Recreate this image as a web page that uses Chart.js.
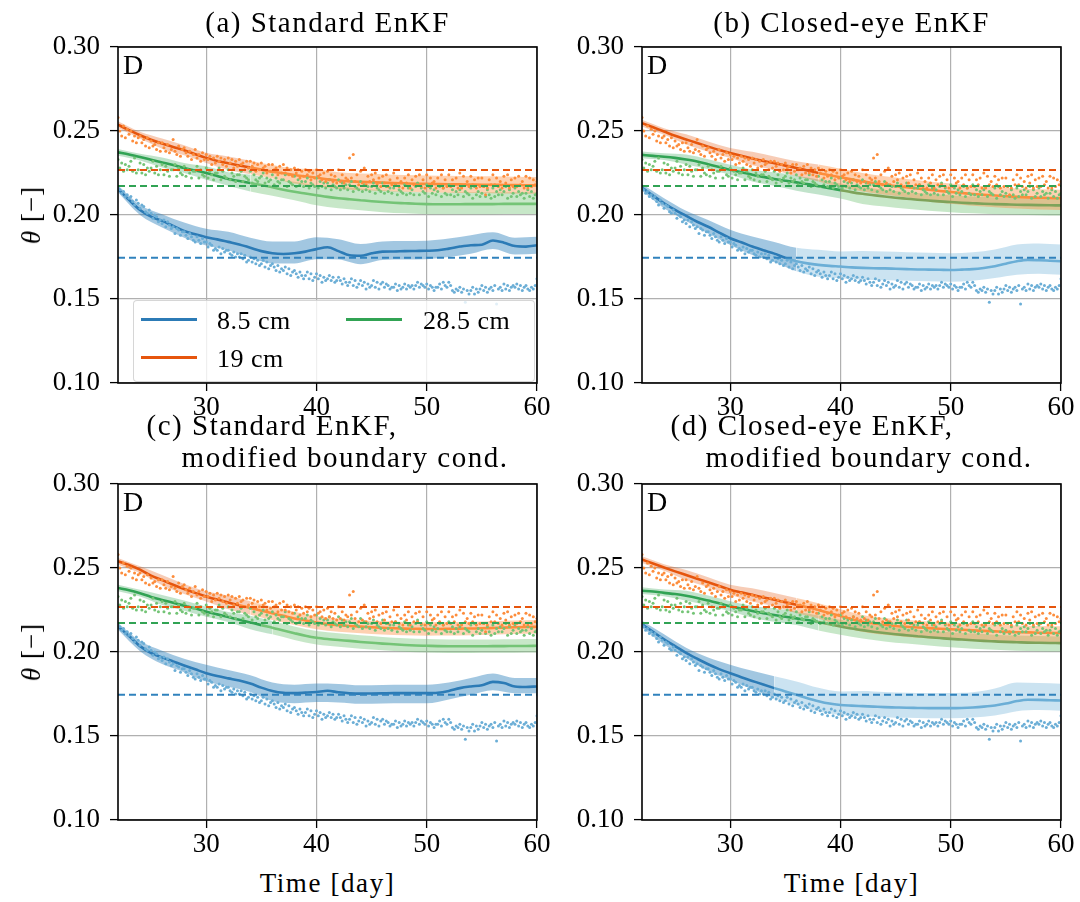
<!DOCTYPE html>
<html><head><meta charset="utf-8">
<script src="https://cdn.jsdelivr.net/npm/chart.js@4.4.0/dist/chart.umd.min.js"></script>
<style>
html,body{margin:0;padding:0;background:#fff;width:1080px;height:902px;overflow:hidden;}
#wrap{position:relative;width:1080px;height:902px;font-family:'Liberation Serif',serif;color:#000;}
canvas{position:absolute;}
.title{position:absolute;font-size:29px;line-height:32px;letter-spacing:1.5px;white-space:pre;transform:translateX(-50%);}
.dlab{position:absolute;font-size:28px;line-height:28px;}
.ylab{position:absolute;font-size:27px;line-height:30px;letter-spacing:1px;white-space:nowrap;transform:translate(-50%,-50%) rotate(-90deg);}
.xlab{position:absolute;font-size:27px;line-height:32px;letter-spacing:1.6px;white-space:nowrap;transform:translateX(-50%);}
#legend{position:absolute;left:133px;top:300px;width:400px;height:80px;background:rgba(255,255,255,0.8);border:1px solid rgba(204,204,204,0.8);border-radius:4px;z-index:5;}
.lgl{position:absolute;width:56px;height:3px;}
.lgt{position:absolute;font-size:26px;line-height:30px;letter-spacing:0.5px;white-space:nowrap;}
</style></head>
<body><div id="wrap">
<canvas id="ca" width="560" height="430" style="left:0;top:0"></canvas>
<canvas id="cb" width="560" height="430" style="left:524px;top:0"></canvas>
<canvas id="cc" width="560" height="430" style="left:0;top:437px"></canvas>
<canvas id="cd" width="560" height="430" style="left:524px;top:437px"></canvas>
<div class="title" style="left:327.5px;top:6px">(a) Standard EnKF</div>
<div class="title" style="left:851.5px;top:6px">(b) Closed-eye EnKF</div>
<div class="title" style="left:327.5px;top:409px">(c) Standard EnKF,
    modified boundary cond.</div>
<div class="title" style="left:851.5px;top:409px">(d) Closed-eye EnKF,
    modified boundary cond.</div>
<div class="dlab" style="left:123px;top:51px">D</div>
<div class="dlab" style="left:647px;top:51px">D</div>
<div class="dlab" style="left:123px;top:488px">D</div>
<div class="dlab" style="left:647px;top:488px">D</div>
<div class="ylab" style="left:31px;top:215px"><i>θ</i> [−]</div>
<div class="ylab" style="left:31px;top:652px"><i>θ</i> [−]</div>
<div class="xlab" style="left:327.5px;top:867px">Time [day]</div>
<div class="xlab" style="left:851.5px;top:867px">Time [day]</div>
<div id="legend">
  <div class="lgl" style="left:7px;top:17px;background:#2c7bb6"></div>
  <div class="lgt" style="left:83px;top:5px">8.5 cm</div>
  <div class="lgl" style="left:7px;top:55px;background:#e6550d"></div>
  <div class="lgt" style="left:83px;top:43px">19 cm</div>
  <div class="lgl" style="left:212px;top:17px;background:#31a354"></div>
  <div class="lgt" style="left:289px;top:5px">28.5 cm</div>
</div>
</div>
<script>
// ---------- data ----------
const seriesNames = ['8.5 cm', '19 cm', '28.5 cm'];
const xTicks = [30, 40, 50, 60];
const xTickLabels = ['30', '40', '50', '60'];
const yTicks = [0.10, 0.15, 0.20, 0.25, 0.30];
const yTickLabels = ['0.10', '0.15', '0.20', '0.25', '0.30'];

// daily grid for the ensemble means
const days = [22,23,24,25,26,27,28,29,30,31,32,33,34,35,36,37,38,39,40,41,42,43,44,45,46,47,48,49,50,51,52,53,54,55,56,57,58,59,60];
// grid for the ensemble spread
const bandDays = [22,24,26,28,30,32,34,36,38,40,42,44,46,48,50,52,54,56,58,60];

// observations (6 per day, from day 22)
const obsStart = 22, obsPerDay = 6;
const obsBlue = [
.216,.215,.213,.214,.211,.212, .210,.211,.208,.206,.209,.207, .204,.206,.205,.202,.201,.203,
.201,.198,.200,.199,.196,.197, .195,.197,.193,.196,.194,.192, .193,.189,.192,.191,.188,.190,
.190,.188,.186,.189,.187,.185, .184,.187,.185,.183,.186,.184, .184,.181,.183,.182,.179,.180,
.179,.181,.177,.180,.178,.179, .179,.177,.176,.178,.175,.177, .175,.177,.174,.176,.172,.173,
.175,.172,.174,.171,.173,.170, .171,.173,.169,.172,.168,.170, .171,.169,.167,.170,.166,.168,
.167,.169,.165,.168,.164,.166, .167,.165,.163,.166,.164,.162, .164,.166,.162,.165,.161,.163,
.165,.162,.164,.160,.163,.161, .162,.164,.161,.163,.160,.161, .163,.161,.159,.162,.160,.158,
.160,.162,.158,.161,.157,.159, .161,.158,.160,.156,.159,.157, .158,.161,.157,.160,.156,.159,
.160,.157,.159,.158,.156,.157, .157,.159,.155,.158,.156,.157, .159,.156,.158,.157,.158,.156,
.158,.160,.157,.159,.158,.157, .159,.156,.158,.157,.155,.157, .157,.159,.156,.160,.158,.157,
.160,.158,.155,.154,.156,.155, .157,.154,.156,.148,.155,.153, .155,.157,.153,.156,.154,.156,
.158,.155,.157,.154,.156,.157, .155,.158,.147,.156,.157,.155, .159,.156,.158,.155,.157,.158,
.157,.159,.156,.158,.155,.157, .158,.156,.155,.157,.156,.158, .162];
const obsOrange = [
.258,.250,.247,.253,.246,.251, .248,.250,.244,.247,.243,.246, .247,.243,.245,.241,.246,.240,
.244,.241,.242,.239,.243,.238, .243,.240,.238,.242,.237,.239, .245,.238,.236,.241,.235,.239,
.240,.237,.235,.238,.233,.236, .239,.234,.236,.232,.237,.233, .236,.233,.235,.230,.234,.231,
.235,.232,.234,.230,.233,.229, .234,.231,.233,.228,.232,.229, .233,.230,.231,.227,.232,.228,
.232,.229,.231,.226,.230,.227, .231,.228,.229,.225,.230,.226, .230,.227,.228,.224,.229,.225,
.230,.225,.228,.224,.227,.223, .228,.225,.227,.222,.226,.223, .227,.224,.226,.221,.225,.222,
.227,.223,.224,.221,.225,.220, .226,.221,.224,.220,.223,.219, .227,.220,.224,.219,.222,.221,
.234,.222,.236,.220,.224,.218, .226,.219,.228,.218,.223,.220, .224,.221,.225,.218,.222,.217,
.223,.219,.224,.217,.221,.218, .225,.218,.222,.217,.220,.216, .222,.219,.224,.216,.221,.218,
.223,.218,.224,.217,.221,.216, .224,.217,.222,.219,.220,.216, .222,.218,.224,.216,.221,.217,
.224,.217,.221,.218,.222,.216, .225,.216,.223,.218,.220,.217, .223,.218,.221,.216,.222,.217,
.222,.217,.212,.216,.221,.218, .224,.218,.222,.217,.220,.216, .223,.219,.224,.216,.221,.217,
.222,.217,.223,.218,.220,.216, .223,.216,.222,.217,.221,.218, .220];
const obsGreen = [
.233,.228,.231,.226,.230,.227, .229,.232,.226,.234,.225,.227, .231,.225,.230,.224,.228,.226,
.228,.232,.225,.229,.224,.227, .230,.224,.229,.226,.223,.227, .227,.230,.223,.228,.225,.224,
.229,.223,.227,.225,.222,.226, .226,.229,.222,.227,.224,.223, .228,.222,.226,.224,.221,.225,
.225,.228,.221,.226,.223,.222, .227,.221,.225,.223,.220,.224, .224,.226,.220,.223,.222,.221,
.226,.219,.224,.221,.220,.222, .223,.225,.219,.222,.220,.221, .224,.218,.222,.220,.219,.221,
.221,.224,.217,.220,.219,.218, .223,.217,.221,.218,.220,.217, .220,.222,.216,.219,.218,.217,
.222,.216,.220,.217,.219,.216, .219,.221,.215,.218,.217,.216, .221,.215,.219,.216,.218,.215,
.218,.220,.214,.217,.216,.215, .220,.214,.218,.215,.217,.214, .217,.219,.213,.216,.215,.214,
.219,.213,.217,.214,.216,.213, .216,.218,.212,.215,.214,.213, .218,.212,.216,.213,.215,.212,
.217,.219,.212,.216,.214,.213, .218,.211,.216,.213,.215,.212, .214,.217,.211,.216,.213,.212,
.218,.212,.215,.211,.214,.212, .215,.217,.211,.214,.213,.212, .216,.210,.217,.212,.214,.211,
.213,.217,.211,.215,.212,.210, .216,.211,.214,.212,.215,.212, .214,.217,.210,.215,.211,.213,
.216,.211,.214,.212,.213,.210, .213,.215,.211,.214,.210,.212, .213];

// reference (dashed) levels
const refBlue = 0.1745, refOrange = 0.2268, refGreen = 0.2173;

// (a) Standard EnKF
const aBlue = [.2155,.2090,.2030,.1990,.1965,.1935,.1905,.1885,.1868,.1855,.1840,.1825,.1805,.1785,.1772,.1768,.1772,.1782,.1797,.1808,.1785,.1760,.1757,.1772,.1782,.1783,.1785,.1786,.1787,.1790,.1800,.1812,.1820,.1823,.1848,.1835,.1815,.1812,.1820];
const aOrange = [.2538,.2505,.2475,.2448,.2425,.2405,.2385,.2362,.2340,.2322,.2308,.2295,.2283,.2270,.2258,.2248,.2238,.2230,.2222,.2212,.2205,.2200,.2197,.2195,.2193,.2190,.2188,.2186,.2185,.2184,.2183,.2182,.2181,.2180,.2180,.2179,.2178,.2177,.2176];
const aGreen = [.2373,.2360,.2345,.2329,.2313,.2297,.2280,.2265,.2250,.2232,.2214,.2202,.2190,.2178,.2165,.2150,.2138,.2128,.2118,.2108,.2100,.2094,.2088,.2082,.2077,.2073,.2070,.2067,.2065,.2064,.2064,.2064,.2065,.2065,.2065,.2066,.2066,.2066,.2066];
const aBlueLo = [.002,.003,.004,.004,.005,.005,.006,.006,.006,.006,.005,.005,.005,.005,.005,.005,.005,.005,.005,.005];
const aBlueHi = [.002,.003,.004,.005,.005,.006,.006,.007,.007,.007,.007,.007,.006,.006,.006,.006,.006,.005,.005,.005];
const aOrangeLo = [.002,.002,.003,.003,.003,.004,.004,.004,.005,.005,.005,.005,.005,.005,.005,.005,.005,.005,.005,.005];
const aOrangeHi = [.002,.002,.003,.003,.003,.004,.004,.004,.004,.005,.005,.005,.005,.005,.005,.005,.005,.005,.005,.005];
const aGreenLo = [.002,.002,.003,.003,.004,.004,.005,.005,.005,.006,.006,.006,.006,.006,.006,.006,.006,.006,.006,.006];
const aGreenHi = [.002,.002,.003,.003,.004,.004,.005,.005,.006,.006,.007,.007,.007,.007,.007,.007,.007,.007,.007,.007];

// (b) Closed-eye EnKF
const bBlue = [.2164,.2115,.2070,.2030,.1995,.1960,.1930,.1895,.1862,.1838,.1812,.1790,.1770,.1745,.1725,.1712,.1703,.1697,.1693,.1688,.1685,.1683,.1682,.1680,.1678,.1676,.1675,.1674,.1673,.1675,.1678,.1685,.1695,.1710,.1725,.1733,.1731,.1728,.1725];
const bOrange = [.2547,.2522,.2497,.2472,.2450,.2428,.2407,.2387,.2369,.2352,.2336,.2321,.2308,.2294,.2280,.2265,.2250,.2237,.2225,.2212,.2200,.2190,.2180,.2172,.2165,.2158,.2150,.2143,.2137,.2131,.2125,.2120,.2116,.2112,.2108,.2105,.2103,.2101,.2100];
const bGreen = [.2358,.2352,.2347,.2340,.2330,.2318,.2302,.2286,.2269,.2255,.2240,.2227,.2214,.2204,.2194,.2184,.2172,.2160,.2148,.2136,.2126,.2118,.2110,.2103,.2097,.2091,.2086,.2081,.2077,.2073,.2070,.2067,.2065,.2063,.2061,.2060,.2059,.2058,.2057];
const bBlueLo = [.002,.003,.003,.004,.004,.005,.005,.006,.007,.007,.007,.007,.007,.007,.007,.007,.007,.008,.008,.008];
const bBlueHi = [.002,.003,.003,.004,.005,.006,.007,.008,.009,.009,.010,.010,.010,.010,.010,.010,.010,.010,.010,.010];
const bOrangeLo = [.002,.002,.003,.003,.003,.004,.004,.005,.005,.006,.006,.006,.006,.007,.007,.007,.007,.007,.007,.007];
const bOrangeHi = [.002,.002,.003,.003,.003,.004,.004,.004,.005,.005,.005,.005,.005,.005,.005,.005,.005,.005,.005,.005];
const bGreenLo = [.002,.002,.003,.003,.003,.004,.004,.005,.005,.005,.006,.006,.006,.006,.006,.006,.006,.006,.006,.006];
const bGreenHi = [.002,.002,.003,.003,.003,.003,.004,.004,.004,.004,.004,.004,.004,.004,.004,.004,.004,.004,.004,.004];

// (c) Standard EnKF, modified boundary cond.
const cBlue = [.2152,.2095,.2035,.1994,.1968,.1944,.1920,.1897,.1874,.1857,.1843,.1830,.1812,.1788,.1768,.1757,.1755,.1758,.1762,.1769,.1760,.1754,.1752,.1753,.1754,.1755,.1755,.1755,.1755,.1757,.1768,.1785,.1795,.1802,.1822,.1815,.1795,.1792,.1795];
const cOrange = [.2540,.2518,.2490,.2455,.2428,.2400,.2375,.2352,.2331,.2312,.2295,.2278,.2262,.2246,.2230,.2215,.2200,.2188,.2175,.2166,.2160,.2155,.2151,.2147,.2144,.2141,.2139,.2138,.2137,.2137,.2138,.2139,.2140,.2141,.2143,.2145,.2147,.2149,.2150];
const cGreen = [.2381,.2368,.2350,.2328,.2310,.2293,.2276,.2260,.2240,.2224,.2208,.2192,.2176,.2160,.2145,.2128,.2112,.2097,.2085,.2077,.2071,.2066,.2060,.2055,.2050,.2046,.2042,.2039,.2037,.2035,.2034,.2034,.2034,.2034,.2035,.2035,.2036,.2036,.2037];
const cBlueLo = [.002,.003,.004,.004,.005,.005,.005,.006,.006,.006,.006,.006,.006,.006,.006,.005,.005,.005,.004,.004];
const cBlueHi = [.002,.003,.004,.004,.005,.005,.005,.005,.005,.005,.005,.005,.005,.005,.005,.005,.005,.005,.005,.005];
const cOrangeLo = [.002,.002,.003,.003,.003,.004,.004,.004,.004,.004,.004,.004,.004,.004,.004,.004,.004,.004,.004,.004];
const cOrangeHi = [.002,.002,.003,.003,.003,.004,.004,.004,.004,.004,.004,.004,.004,.004,.004,.004,.004,.004,.004,.004];
const cGreenLo = [.002,.002,.003,.003,.003,.003,.004,.004,.004,.004,.004,.004,.004,.004,.004,.004,.004,.004,.004,.004];
const cGreenHi = [.002,.002,.003,.003,.003,.003,.004,.004,.004,.004,.004,.004,.004,.004,.004,.004,.004,.004,.004,.004];

// (d) Closed-eye EnKF, modified boundary cond.
const dBlue = [.2166,.2120,.2075,.2035,.1995,.1960,.1927,.1898,.1874,.1850,.1828,.1806,.1785,.1765,.1745,.1725,.1707,.1693,.1685,.1681,.1678,.1675,.1672,.1670,.1668,.1667,.1666,.1666,.1666,.1667,.1670,.1675,.1682,.1693,.1708,.1716,.1715,.1713,.1711];
const dOrange = [.2550,.2527,.2503,.2480,.2458,.2436,.2415,.2393,.2371,.2355,.2340,.2325,.2311,.2296,.2281,.2266,.2250,.2232,.2215,.2195,.2180,.2170,.2162,.2155,.2150,.2146,.2142,.2138,.2135,.2132,.2129,.2126,.2123,.2120,.2118,.2117,.2115,.2114,.2113];
const dGreen = [.2365,.2360,.2352,.2345,.2335,.2322,.2306,.2290,.2272,.2258,.2244,.2231,.2220,.2210,.2200,.2190,.2178,.2165,.2152,.2140,.2130,.2121,.2113,.2106,.2100,.2094,.2088,.2083,.2078,.2074,.2070,.2066,.2063,.2060,.2058,.2056,.2055,.2054,.2053];
const dBlueLo = [.002,.003,.003,.004,.004,.005,.006,.006,.006,.006,.006,.006,.006,.006,.006,.006,.006,.006,.006,.006];
const dBlueHi = [.002,.003,.003,.004,.005,.006,.007,.008,.008,.008,.009,.009,.009,.009,.009,.009,.010,.011,.010,.010];
const dOrangeLo = [.002,.002,.003,.003,.003,.004,.004,.005,.005,.006,.006,.006,.006,.006,.006,.006,.006,.006,.006,.006];
const dOrangeHi = [.002,.002,.003,.003,.003,.004,.004,.004,.004,.004,.004,.004,.004,.004,.004,.004,.004,.004,.004,.004];
const dGreenLo = [.002,.002,.003,.003,.003,.004,.004,.004,.005,.005,.005,.005,.005,.005,.005,.005,.005,.005,.005,.005];
const dGreenHi = [.002,.002,.003,.003,.003,.003,.004,.004,.004,.004,.004,.004,.004,.004,.004,.004,.004,.004,.004,.004];

// ---------- styles ----------
const C = {
  blue:   {dark:'#2c7bb6', light:'#6baed6', obs:'#6baed6', ref:'#3182bd', bandDark:'rgba(49,130,189,0.45)', bandLight:'rgba(107,174,214,0.35)'},
  orange: {dark:'#e6550d', light:'#fd8d3c', obs:'#fd8d3c', ref:'#e6550d', bandDark:'rgba(230,85,13,0.30)', bandLight:'rgba(253,141,60,0.40)'},
  green:  {dark:'#31a354', light:'#74c476', obs:'#74c476', ref:'#31a354', bandDark:'rgba(49,163,84,0.30)', bandLight:'rgba(116,196,118,0.40)'}
};
const panels = [
  {id:'ca', mean:{blue:aBlue, orange:aOrange, green:aGreen}, lo:{blue:aBlueLo, orange:aOrangeLo, green:aGreenLo}, hi:{blue:aBlueHi, orange:aOrangeHi, green:aGreenHi}, sw:{blue:null, orange:34, green:34}, greenLate:'#74c476'},
  {id:'cb', mean:{blue:bBlue, orange:bOrange, green:bGreen}, lo:{blue:bBlueLo, orange:bOrangeLo, green:bGreenLo}, hi:{blue:bBlueHi, orange:bOrangeHi, green:bGreenHi}, sw:{blue:35, orange:38, green:40}, greenLate:'#7ea35a'},
  {id:'cc', mean:{blue:cBlue, orange:cOrange, green:cGreen}, lo:{blue:cBlueLo, orange:cOrangeLo, green:cGreenLo}, hi:{blue:cBlueHi, orange:cOrangeHi, green:cGreenHi}, sw:{blue:null, orange:33, green:35}, greenLate:'#74c476'},
  {id:'cd', mean:{blue:dBlue, orange:dOrange, green:dGreen}, lo:{blue:dBlueLo, orange:dOrangeLo, green:dGreenLo}, hi:{blue:dBlueHi, orange:dOrangeHi, green:dGreenHi}, sw:{blue:34, orange:36, green:38}, greenLate:'#7ea35a'}
];
const obs = {blue:obsBlue, orange:obsOrange, green:obsGreen};
const refs = {blue:refBlue, orange:refOrange, green:refGreen};
const keys = ['blue','orange','green'];
const FONT = {family:"'Liberation Serif', 'Times New Roman', serif", size:27};

const frame = {id:'frame', afterDraw(chart){
  const {ctx, chartArea:a} = chart;
  ctx.save(); ctx.strokeStyle = '#000'; ctx.lineWidth = 1.6;
  ctx.strokeRect(a.left, a.top, a.right - a.left, a.bottom - a.top);
  ctx.restore();
}};

function buildDatasets(p){
  const ds = [];
  keys.forEach(k => {
    ds.push({data:[{x:days[0], y:refs[k]}, {x:days[days.length-1], y:refs[k]}], borderColor:C[k].ref, borderWidth:2, borderDash:[7,4], pointRadius:0, fill:false, order:1});
  });
  keys.forEach(k => {
    ds.push({data:obs[k].map((v,i)=>({x:obsStart + i/obsPerDay, y:v})), showLine:false, pointRadius:1.5, pointBorderWidth:0, pointBackgroundColor:C[k].obs, borderColor:C[k].obs, order:2});
  });
  keys.forEach(k => {
    const sw = p.sw[k];
    const late = k === 'green' ? p.greenLate : C[k].light;
    ds.push({data:p.mean[k].map((v,i)=>({x:days[i], y:v})), borderWidth:2.6, pointRadius:0, fill:false, cubicInterpolationMode:'monotone', borderColor:C[k].dark,
      segment:{borderColor: c => (sw !== null && c.p0.parsed.x >= sw) ? late : C[k].dark}, order:3});
  });
  keys.forEach(k => {
    const sw = p.sw[k];
    const m = p.mean[k];
    const bg = c => (sw !== null && c.p0.parsed.x >= sw) ? C[k].bandLight : C[k].bandDark;
    ds.push({data:bandDays.map((d,j)=>({x:d, y:m[days.indexOf(d)] + p.hi[k][j]})), borderWidth:0, pointRadius:0, cubicInterpolationMode:'monotone',
      fill:'+1', backgroundColor:C[k].bandDark, segment:{backgroundColor:bg}, order:4});
    ds.push({data:bandDays.map((d,j)=>({x:d, y:m[days.indexOf(d)] - p.lo[k][j]})), borderWidth:0, pointRadius:0, cubicInterpolationMode:'monotone', fill:false, order:4});
  });
  return ds;
}

panels.forEach(p => {
  new Chart(document.getElementById(p.id), {
    type:'line',
    data:{datasets:buildDatasets(p)},
    options:{
      responsive:false, animation:false, events:[],
      layout:{padding:{top:47, right:23, left:0, bottom:0}},
      plugins:{legend:{display:false}, tooltip:{enabled:false}},
      scales:{
        x:{type:'linear', min:22, max:60,
          afterBuildTicks: s => { s.ticks = xTicks.map(v => ({value:v})); },
          afterFit: s => { s.height = 47; },
          border:{display:false},
          grid:{color:'#b0b0b0', lineWidth:1.2, tickColor:'#000', tickLength:8, tickWidth:1.3},
          ticks:{font:FONT, color:'#000', padding:1, maxRotation:0, autoSkip:false, callback:(v,i)=>xTickLabels[i]}},
        y:{type:'linear', min:0.1, max:0.3,
          afterBuildTicks: s => { s.ticks = yTicks.map(v => ({value:v})); },
          afterFit: s => { s.width = 118; },
          border:{display:false},
          grid:{color:'#b0b0b0', lineWidth:1.2, tickColor:'#000', tickLength:8, tickWidth:1.3},
          ticks:{font:FONT, color:'#000', padding:10, callback:(v,i)=>yTickLabels[i]}}
      }
    },
    plugins:[frame]
  });
});
</script>
</body></html>
